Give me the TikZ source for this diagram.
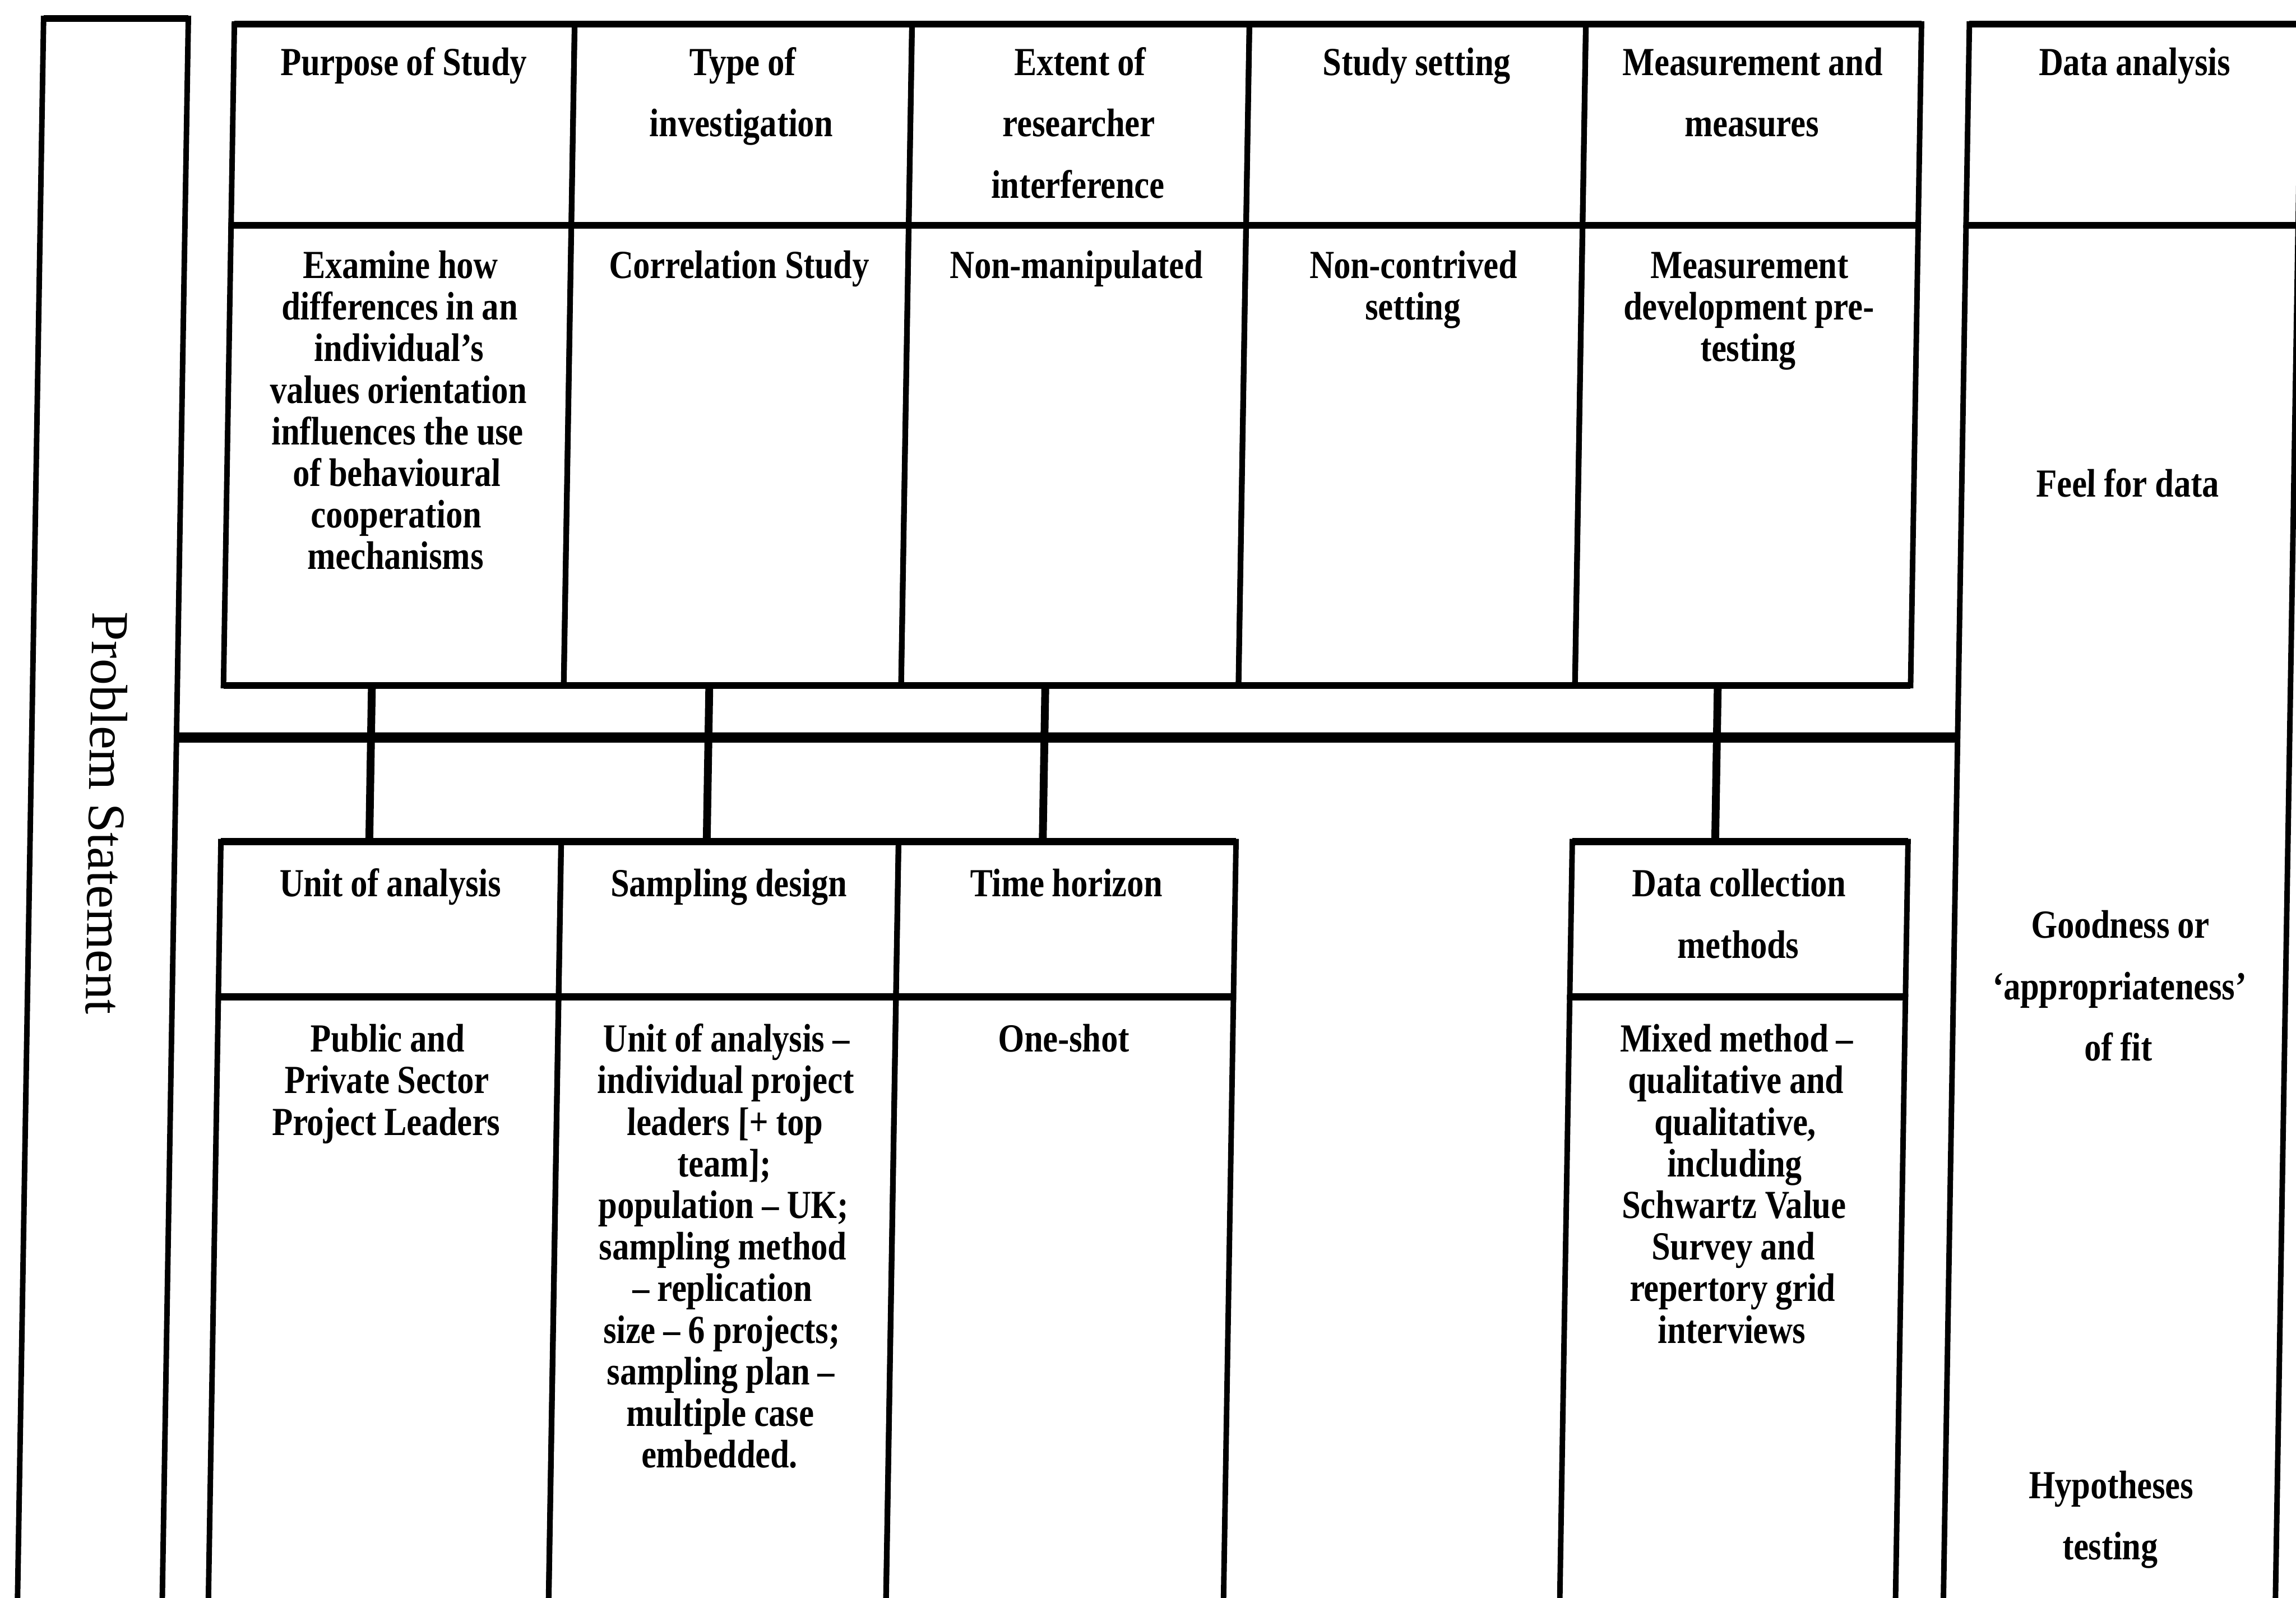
\documentclass[tikz,border=0pt]{standalone}
\usepackage{fontspec}
\setmainfont{Liberation Serif}[FakeStretch=0.846]
\newfontfamily\titlefont{Liberation Serif}
\usetikzlibrary{calc}

\begin{document}
\begin{tikzpicture}
\useasboundingbox (0,0) rectangle (49.65,-34.55);
\clip (0,0) rectangle (49.65,-34.55);
% one unit = 0.01cm, y grows downwards; the whole sheet leans slightly
\begin{scope}[x=0.01cm, y=-0.01cm, xslant=0.0165, transform shape,
  cell/.style={draw, line width=3.4pt, shape=rectangle, inner sep=0pt, outer sep=0pt, anchor=north west},
  hline/.style={line width=4.3pt},
  band/.style={line width=6.3pt},
  link/.style={line width=4.8pt},
  tight/.style={execute at begin node={\spaceskip=0.2em\relax\xspaceskip=0.25em\relax}},
  head/.style={anchor=base, inner sep=0pt, align=center, text width=6.9cm, tight,
    font=\fontsize{24.5pt}{37.8pt}\selectfont\bfseries},
  body/.style={anchor=base, inner sep=0pt, align=center, text width=6.9cm, tight,
    font=\fontsize{24.5pt}{25.6pt}\selectfont\bfseries},
]

% ---- left column -------------------------------------------------------
\node[cell, minimum width=3.13cm, minimum height=35.2cm] (prob) at (95,40) {};
\node[rotate=-90, anchor=base, inner sep=0pt,
      font=\titlefont\fontsize{32.4pt}{36pt}\selectfont] (tProb) at (222,1759) {Problem Statement};

% ---- upper block: headers ----------------------------------------------
\node[cell, minimum width=7.36cm, minimum height=4.35cm] (hP) at (508,52) {};
\node[cell, minimum width=7.30cm, minimum height=4.35cm] (hT) at (1244,52) {};
\node[cell, minimum width=7.30cm, minimum height=4.35cm] (hE) at (1974,52) {};
\node[cell, minimum width=7.28cm, minimum height=4.35cm] (hS) at (2704,52) {};
\node[cell, minimum width=7.26cm, minimum height=4.35cm] (hM) at (3432,52) {};
% ---- upper block: contents ---------------------------------------------
\node[cell, minimum width=7.36cm, minimum height=9.96cm] (bP) at (508,487) {};
\node[cell, minimum width=7.30cm, minimum height=9.96cm] (bT) at (1244,487) {};
\node[cell, minimum width=7.30cm, minimum height=9.96cm] (bE) at (1974,487) {};
\node[cell, minimum width=7.28cm, minimum height=9.96cm] (bS) at (2704,487) {};
\node[cell, minimum width=7.26cm, minimum height=9.96cm] (bM) at (3432,487) {};

% ---- right column --------------------------------------------------------
\node[cell, minimum width=7.18cm, minimum height=4.35cm] (hD) at (4262,52) {};
\node[cell, minimum width=7.18cm, minimum height=30.73cm] (bD) at (4262,487) {};

% ---- lower block ---------------------------------------------------------
\node[cell, minimum width=7.36cm, minimum height=3.36cm] (hU) at (508,1821) {};
\node[cell, minimum width=7.30cm, minimum height=3.36cm] (hSa) at (1244,1821) {};
\node[cell, minimum width=7.30cm, minimum height=3.36cm] (hTi) at (1974,1821) {};
\node[cell, minimum width=7.26cm, minimum height=3.36cm] (hDc) at (3432,1821) {};
\node[cell, minimum width=7.36cm, minimum height=14.03cm] (bU) at (508,2157) {};
\node[cell, minimum width=7.30cm, minimum height=14.03cm] (bSa) at (1244,2157) {};
\node[cell, minimum width=7.30cm, minimum height=14.03cm] (bTi) at (1974,2157) {};
\node[cell, minimum width=7.26cm, minimum height=14.03cm] (bDc) at (3432,2157) {};

% ---- heavier horizontal rules --------------------------------------------
\draw[hline] (prob.north west) -- (prob.north east);
\draw[hline] (hP.north west) -- (hM.north east);
\draw[hline] (hP.south west) -- (hM.south east);
\draw[hline] (bP.south west) -- (bM.south east);
\draw[hline] (hD.north west) -- (hD.north east);
\draw[hline] (hD.south west) -- (hD.south east);
\draw[hline] (hU.north west) -- (hTi.north east);
\draw[hline] (hU.south west) -- (hTi.south east);
\draw[hline] (hDc.north west) -- (hDc.north east);
\draw[hline] (hDc.south west) -- (hDc.south east);

% ---- dividing band between the two blocks ---------------------------------
\draw[band] ($(prob.north east)!0.44176!(prob.south east)$)
         -- ($(bD.north west)!0.36056!(bD.south west)$);

% ---- links from the upper to the lower boxes -------------------------------
\draw[link] ($(bP.south west)!0.436!(bP.south east)$) -- ($(hU.north west)!0.436!(hU.north east)$);
\draw[link] ($(bT.south west)!0.4315!(bT.south east)$) -- ($(hSa.north west)!0.4315!(hSa.north east)$);
\draw[link] ($(bE.south west)!0.4274!(bE.south east)$) -- ($(hTi.north west)!0.4274!(hTi.north east)$);
\draw[link] ($(bM.south west)!0.4256!(bM.south east)$) -- ($(hDc.north west)!0.4256!(hDc.north east)$);

% ---- texts: upper headers ----------------------------------------------
\node[head] (tP) at (876,163) {Purpose of Study};
\node[head] (tT) at (1609,163) {Type of\\investigation};
\node[head] (tE) at (2339,163) {Extent of\\researcher\\interference};
\node[head] (tS) at (3068,163) {Study setting};
\node[head] (tM) at (3795,163) {Measurement and\\measures};
\node[head] (tD) at (4621,163) {Data analysis};

% ---- texts: upper contents ----------------------------------------------
\node[body] (cP) at (876,602) {Examine how\\differences in an\\individual’s\\values orientation\\influences the use\\of behavioural\\cooperation\\mechanisms};
\node[body] (cT) at (1609,602) {Correlation Study};
\node[body] (cE) at (2339,602) {Non-manipulated};
\node[body] (cS) at (3068,602) {Non-contrived\\setting};
\node[body] (cM) at (3795,602) {Measurement\\development pre-\\testing};

% ---- texts: lower headers -----------------------------------------------
\node[head] (tU) at (876,1940) {Unit of analysis};
\node[head] (tSa) at (1609,1940) {Sampling design};
\node[head] (tTi) at (2339,1940) {Time horizon};
\node[head] (tDc) at (3795,1940) {Data collection\\methods};

% ---- texts: lower contents ----------------------------------------------
\node[body] (cU) at (876,2276) {Public and\\Private Sector\\Project Leaders};
\node[body] (cSa) at (1609,2276) {Unit of analysis –\\individual project\\leaders [+ top\\team];\\population – UK;\\sampling method\\– replication\\size – 6 projects;\\sampling plan –\\multiple case\\embedded.};
\node[body] (cTi) at (2339,2276) {One-shot};
\node[body] (cDc) at (3795,2276) {Mixed method –\\qualitative and\\qualitative,\\including\\Schwartz Value\\Survey and\\repertory grid\\interviews};

% ---- texts: data analysis column ------------------------------------------
\node[head] (dA) at (4621,1075) {Feel for data};
\node[head] (dB) at (4621,2030) {Goodness or\\‘appropriateness’\\of fit};
\node[head] (dC) at (4621,3242) {Hypotheses\\testing};

\end{scope}
\end{tikzpicture}
\end{document}
